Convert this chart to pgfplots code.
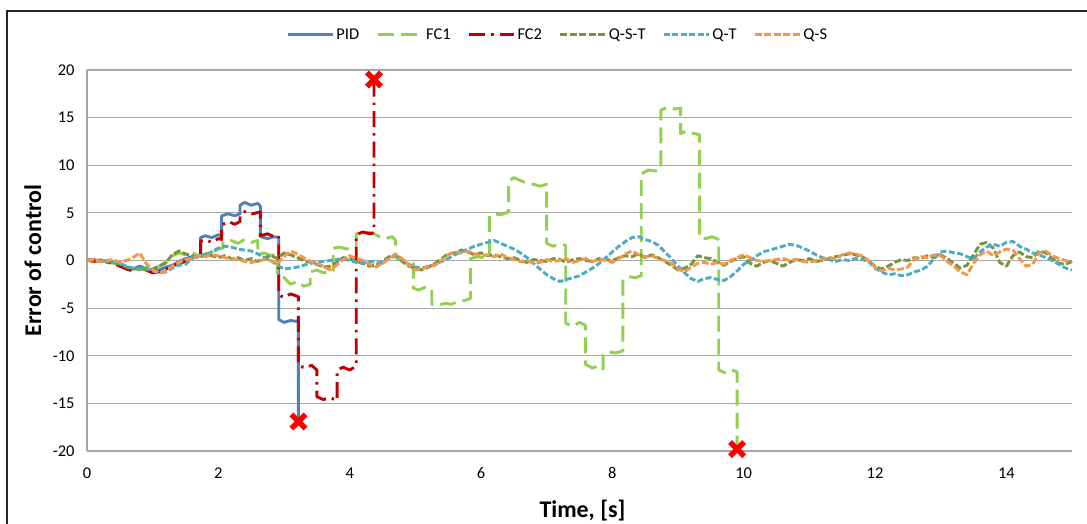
\documentclass[border=0pt]{standalone}
\usepackage{fontspec}
\setmainfont{Carlito}
\usepackage{pgfplots}
\pgfplotsset{compat=1.18}
\definecolor{cPID}{HTML}{4F81BD}
\definecolor{cFCa}{HTML}{92D050}
\definecolor{cFCb}{HTML}{C00000}
\definecolor{cQST}{HTML}{77933C}
\definecolor{cQT}{HTML}{4BACC6}
\definecolor{cQS}{HTML}{F79646}
\definecolor{gridgray}{HTML}{A6A6A6}
\begin{document}
\begin{tikzpicture}
\useasboundingbox (0bp,0bp) rectangle (1087bp,524bp);
\draw[black!85, line width=1.3bp] (7bp,-5bp) -- (7bp,513bp) -- (1095bp,513bp);
\begin{axis}[
  at={(87bp,73bp)}, anchor=south west,
  scale only axis, width=985bp, height=381bp,
  xmin=0, xmax=15, ymin=-20, ymax=20,
  xtick={0,2,...,14}, ytick={-20,-15,...,20},
  axis lines*=left, axis line style={gridgray, line width=1.2bp},
  ymajorgrids, grid style={gridgray, line width=1.2bp},
  major tick length=0pt,
  clip=false,
  /pgf/number format/assume math mode=true,
  ticklabel style={font=\fontsize{16.5}{18}\selectfont},
  yticklabel style={xshift=-9bp},
  xticklabel style={yshift=-13bp},
  xlabel={\textbf{Time, [s]}},
  ylabel={\textbf{Error of control}},
  label style={font=\fontsize{24}{26}\selectfont},
  x label style={at={(axis description cs:0.503,-0.157)}, anchor=center},
  y label style={at={(axis description cs:-0.055,0.5)}, anchor=center},
  legend columns=6,
  legend style={at={(axis description cs:0.478,1.092)}, anchor=center, draw=none, fill=none,
    font=\fontsize{16.5}{18}\selectfont,
    nodes={inner xsep=2bp, inner ysep=2bp},
    /tikz/every even column/.append style={column sep=15bp}},
  legend image code/.code={\draw[#1] (0bp,0bp) -- (45bp,0bp);},
  every axis plot/.append style={line width=2.9bp, line join=round},
]
% PID
\addplot[cPID, solid] coordinates {(0,0) (0.1,0.1) (0.2,-0.1) (0.3,0.0) (0.4,-0.2) (0.5,-0.4) (0.6,-0.7) (0.7,-0.9) (0.8,-0.6) (0.9,-0.8) (1.0,-1.1) (1.1,-1.0) (1.2,-0.7) (1.3,-0.5) (1.4,-0.1) (1.5,0.2) (1.6,0.4) (1.73,0.6) (1.73,2.4) (1.8,2.6) (1.9,2.4) (2.0,2.7) (2.05,2.6) (2.05,4.7) (2.15,4.9) (2.25,4.7) (2.33,4.9) (2.33,5.8) (2.4,6.1) (2.5,5.8) (2.6,6.0) (2.64,5.7) (2.64,2.5) (2.75,2.3) (2.85,2.5) (2.92,2.4) (2.92,-6.2) (3.0,-6.5) (3.1,-6.3) (3.2,-6.4) (3.22,-6.2) (3.22,-16.9)};
\addlegendentry{PID}
% FC1
\addplot[cFCa, dash pattern=on 16bp off 7bp] coordinates {(0,0.0) (0.1,-0.1) (0.2,0.1) (0.3,-0.1) (0.4,-0.3) (0.5,-0.5) (0.6,-0.7) (0.7,-0.8) (0.8,-1.0) (0.9,-0.7) (1.0,-0.9) (1.1,-0.6) (1.2,-0.3) (1.3,0.5) (1.4,0.8) (1.5,0.6) (1.6,0.9) (1.7,0.4) (1.8,0.7) (1.9,0.9) (2.0,1.2) (2.07,1.3) (2.07,1.9) (2.2,2.1) (2.3,1.8) (2.4,2.2) (2.5,1.9) (2.6,2.1) (2.6,0.6) (2.7,0.8) (2.8,0.5) (2.9,0.7) (2.9,-1.5) (3.0,-1.8) (3.1,-2.5) (3.2,-2.2) (3.3,-2.7) (3.4,-2.5) (3.4,-1.2) (3.5,-1.0) (3.6,-1.3) (3.75,-1.1) (3.75,1.3) (3.85,1.4) (3.95,1.2) (4.1,1.4) (4.1,2.8) (4.2,3.0) (4.35,2.9) (4.45,2.5) (4.55,2.3) (4.65,2.5) (4.7,2.1) (4.7,0.3) (4.8,0.0) (4.9,-0.2) (4.97,-0.3) (4.97,-2.9) (5.05,-3.1) (5.15,-2.8) (5.25,-3.0) (5.25,-4.6) (5.35,-4.7) (5.45,-4.5) (5.55,-4.6) (5.65,-4.3) (5.75,-4.2) (5.84,-4.0) (5.84,0.2) (5.95,0.4) (6.05,0.3) (6.13,0.5) (6.13,4.7) (6.2,4.9) (6.3,4.8) (6.42,5.1) (6.42,8.3) (6.5,8.7) (6.6,8.4) (6.7,8.1) (6.8,8.0) (6.9,7.8) (7.0,8.0) (7.0,1.8) (7.1,1.5) (7.2,1.7) (7.29,1.6) (7.29,-6.6) (7.4,-6.9) (7.5,-6.5) (7.59,-6.8) (7.59,-10.9) (7.7,-11.3) (7.8,-11.0) (7.86,-11.4) (7.86,-9.9) (7.95,-9.6) (8.05,-9.7) (8.16,-9.5) (8.16,-2.0) (8.25,-1.7) (8.35,-1.8) (8.44,-1.6) (8.44,9.1) (8.55,9.5) (8.65,9.4) (8.74,9.6) (8.74,15.8) (8.85,16.1) (8.95,15.9) (9.04,16.0) (9.04,13.3) (9.12,13.6) (9.2,13.4) (9.33,13.2) (9.33,2.4) (9.42,2.3) (9.52,2.5) (9.62,2.2) (9.62,-11.5) (9.72,-11.8) (9.82,-11.5) (9.9,-11.7) (9.9,-19.8)};
\addlegendentry{FC1}
% FC2
\addplot[cFCb, dash pattern=on 16bp off 6bp on 2.5bp off 6bp] coordinates {(0,0.1) (0.1,-0.1) (0.2,0.0) (0.3,-0.2) (0.4,-0.3) (0.5,-0.6) (0.6,-0.9) (0.7,-1.1) (0.8,-0.8) (0.9,-1.0) (1.0,-1.3) (1.1,-1.2) (1.2,-0.9) (1.3,-0.6) (1.4,-0.3) (1.5,-0.1) (1.6,0.3) (1.73,0.4) (1.73,2.0) (1.8,2.2) (1.9,1.9) (2.0,2.3) (2.05,2.2) (2.05,3.7) (2.15,4.1) (2.25,3.8) (2.33,4.1) (2.33,4.8) (2.42,5.2) (2.52,4.9) (2.64,5.1) (2.64,2.6) (2.75,2.8) (2.85,2.5) (2.92,2.6) (2.92,-3.6) (3.0,-3.9) (3.1,-3.5) (3.22,-3.8) (3.22,-11.0) (3.32,-11.3) (3.42,-11.0) (3.5,-11.5) (3.5,-14.3) (3.6,-14.6) (3.7,-14.4) (3.81,-14.7) (3.81,-11.5) (3.9,-11.2) (4.0,-11.5) (4.1,-11.1) (4.1,2.7) (4.2,3.0) (4.3,2.8) (4.37,2.9) (4.37,19.0)};
\addlegendentry{FC2}
% Q-S-T
\addplot[cQST, dash pattern=on 7bp off 2.5bp] coordinates {(0.0,0.1) (0.1,-0.1) (0.2,0.0) (0.3,-0.2) (0.4,-0.1) (0.5,-0.4) (0.6,-0.7) (0.7,-0.9) (0.8,-0.8) (0.9,-1.0) (1.0,-0.9) (1.1,-0.6) (1.2,-0.2) (1.3,0.6) (1.4,1.0) (1.5,0.7) (1.6,0.5) (1.7,0.3) (1.8,0.6) (1.9,0.5) (2.0,0.3) (2.1,0.5) (2.2,0.2) (2.3,0.3) (2.4,0.0) (2.5,0.2) (2.6,-0.1) (2.7,0.3) (2.8,0.5) (2.9,0.2) (3.0,0.8) (3.1,0.6) (3.2,0.3) (3.3,0.0) (3.4,-0.2) (3.5,-0.4) (3.6,-0.7) (3.7,-0.6) (3.8,-0.2) (3.9,0.3) (4.0,0.2) (4.1,-0.1) (4.2,-0.3) (4.3,-0.6) (4.4,-0.5) (4.5,-0.1) (4.6,0.4) (4.7,0.6) (4.8,-0.1) (4.9,-0.6) (5.0,-0.8) (5.1,-1.0) (5.2,-0.7) (5.3,-0.3) (5.4,0.2) (5.5,0.7) (5.6,0.8) (5.7,1.1) (5.8,0.9) (5.9,0.6) (6.0,0.8) (6.1,0.5) (6.2,0.6) (6.3,0.4) (6.4,0.2) (6.5,0.3) (6.6,0.0) (6.7,-0.2) (6.8,0.1) (6.9,0.0) (7.0,-0.1) (7.1,0.2) (7.2,0.1) (7.3,-0.2) (7.4,0.1) (7.5,0.2) (7.6,0.0) (7.7,-0.1) (7.8,0.2) (7.9,0.1) (8.0,0.0) (8.1,0.3) (8.2,0.5) (8.3,0.4) (8.4,0.7) (8.5,0.3) (8.6,0.6) (8.7,0.3) (8.8,-0.1) (8.9,-0.5) (9.0,-1.0) (9.1,-0.8) (9.2,-0.4) (9.3,0.5) (9.4,0.3) (9.5,0.2) (9.6,-0.2) (9.7,-0.5) (9.8,-0.1) (9.9,0.2) (10.0,0.4) (10.1,-0.3) (10.2,-0.6) (10.3,-0.2) (10.4,0.0) (10.5,-0.3) (10.6,-0.6) (10.7,-0.2) (10.8,0.1) (10.9,0.0) (11.0,0.2) (11.1,-0.1) (11.2,0.0) (11.3,0.2) (11.4,0.4) (11.5,0.5) (11.6,0.7) (11.7,0.6) (11.8,0.4) (11.9,0.0) (12.0,-0.6) (12.1,-0.9) (12.2,-0.6) (12.3,-0.2) (12.4,0.1) (12.5,0.0) (12.6,0.3) (12.7,0.2) (12.8,0.5) (12.9,0.3) (13.0,0.6) (13.1,0.2) (13.2,-0.3) (13.3,-0.8) (13.4,-0.5) (13.5,0.6) (13.6,1.7) (13.7,1.9) (13.8,1.3) (13.9,-0.2) (14.0,-0.6) (14.1,0.5) (14.2,0.9) (14.3,0.4) (14.4,0.3) (14.5,1.0) (14.6,0.8) (14.7,0.2) (14.8,-0.3) (14.9,-0.4) (15.0,-0.1)};
\addlegendentry{Q-S-T}
% Q-T
\addplot[cQT, dash pattern=on 6bp off 2.5bp] coordinates {(0.0,0.0) (0.1,0.1) (0.2,-0.1) (0.3,0.0) (0.4,-0.2) (0.5,-0.3) (0.6,-0.6) (0.7,-0.8) (0.8,-0.9) (0.9,-0.8) (1.0,-1.1) (1.1,-1.3) (1.2,-1.2) (1.3,-0.8) (1.4,-0.5) (1.5,-0.4) (1.6,0.2) (1.7,0.5) (1.8,0.6) (1.9,0.9) (2.0,1.3) (2.1,1.5) (2.2,1.4) (2.3,1.2) (2.4,1.1) (2.5,1.0) (2.6,0.7) (2.7,0.3) (2.8,0.0) (2.9,-0.5) (3.0,-0.9) (3.1,-0.8) (3.2,-0.7) (3.3,-0.5) (3.4,-0.3) (3.5,-0.2) (3.6,-0.1) (3.7,0.0) (3.8,0.1) (3.9,0.2) (4.0,0.0) (4.1,-0.2) (4.2,-0.3) (4.3,-0.1) (4.4,-0.2) (4.5,-0.3) (4.6,0.2) (4.7,0.5) (4.8,0.1) (4.9,-0.4) (5.0,-0.7) (5.1,-0.8) (5.2,-0.6) (5.3,-0.4) (5.4,-0.1) (5.5,0.2) (5.6,0.6) (5.7,0.9) (5.8,1.2) (5.9,1.5) (6.0,1.7) (6.1,1.9) (6.2,2.1) (6.3,1.8) (6.4,1.5) (6.5,1.2) (6.6,0.8) (6.7,0.3) (6.8,-0.3) (6.9,-0.9) (7.0,-1.5) (7.1,-1.9) (7.2,-2.2) (7.3,-2.0) (7.4,-1.8) (7.5,-1.6) (7.6,-1.2) (7.7,-0.8) (7.8,-0.3) (7.9,0.3) (8.0,0.9) (8.1,1.5) (8.2,2.0) (8.3,2.4) (8.4,2.5) (8.5,2.2) (8.6,2.0) (8.7,1.6) (8.8,0.9) (8.9,0.2) (9.0,-0.6) (9.1,-1.3) (9.2,-1.9) (9.3,-2.2) (9.4,-1.9) (9.5,-1.8) (9.6,-2.0) (9.7,-2.1) (9.8,-1.7) (9.9,-1.1) (10.0,-0.4) (10.1,0.0) (10.2,0.5) (10.3,0.9) (10.4,1.1) (10.5,1.3) (10.6,1.5) (10.7,1.7) (10.8,1.6) (10.9,1.3) (11.0,1.0) (11.1,0.6) (11.2,0.3) (11.3,0.1) (11.4,-0.1) (11.5,0.1) (11.6,0.0) (11.7,0.2) (11.8,0.1) (11.9,-0.1) (12.0,-0.8) (12.1,-1.2) (12.2,-1.5) (12.3,-1.4) (12.4,-1.6) (12.5,-1.5) (12.6,-1.2) (12.7,-1.0) (12.8,-0.6) (12.9,0.2) (13.0,0.9) (13.1,1.0) (13.2,0.8) (13.3,0.7) (13.4,0.4) (13.5,0.2) (13.6,0.9) (13.7,1.4) (13.8,1.7) (13.9,1.5) (14.0,1.9) (14.1,2.0) (14.2,1.5) (14.3,1.2) (14.4,0.8) (14.5,0.6) (14.6,0.3) (14.7,0.0) (14.8,-0.4) (14.9,-0.8) (15.0,-1.0)};
\addlegendentry{Q-T}
% Q-S
\addplot[cQS, dash pattern=on 7bp off 2.5bp] coordinates {(0.0,0.0) (0.1,0.1) (0.2,-0.1) (0.3,0.0) (0.4,0.1) (0.5,-0.2) (0.6,0.0) (0.7,0.3) (0.8,0.8) (0.9,-0.3) (1.0,-1.0) (1.1,-1.3) (1.2,-1.1) (1.3,-0.6) (1.4,-0.2) (1.5,0.1) (1.6,0.2) (1.7,0.5) (1.8,0.4) (1.9,0.6) (2.0,0.5) (2.1,0.3) (2.2,0.2) (2.3,0.1) (2.4,-0.1) (2.5,-0.2) (2.6,-0.1) (2.7,0.1) (2.8,0.0) (2.9,-0.3) (3.0,0.4) (3.1,1.0) (3.2,0.7) (3.3,0.3) (3.4,-0.1) (3.5,-0.3) (3.6,-0.6) (3.7,-1.0) (3.8,-0.5) (3.9,0.1) (4.0,0.5) (4.1,0.2) (4.2,0.0) (4.3,-0.4) (4.4,-0.7) (4.5,-0.3) (4.6,0.2) (4.7,0.6) (4.8,0.2) (4.9,-0.5) (5.0,-1.0) (5.1,-0.9) (5.2,-0.6) (5.3,-0.5) (5.4,0.0) (5.5,0.6) (5.6,0.9) (5.7,0.8) (5.8,1.0) (5.9,0.7) (6.0,0.5) (6.1,0.6) (6.2,0.4) (6.3,0.7) (6.4,0.3) (6.5,0.1) (6.6,-0.1) (6.7,0.0) (6.8,-0.3) (6.9,-0.2) (7.0,0.1) (7.1,-0.1) (7.2,0.0) (7.3,0.2) (7.4,-0.2) (7.5,0.0) (7.6,0.2) (7.7,-0.1) (7.8,0.1) (7.9,0.0) (8.0,-0.2) (8.1,0.2) (8.2,0.7) (8.3,1.0) (8.4,0.6) (8.5,0.4) (8.6,0.5) (8.7,0.2) (8.8,0.0) (8.9,-0.3) (9.0,-0.9) (9.1,-1.2) (9.2,-0.7) (9.3,-0.3) (9.4,-0.2) (9.5,-0.4) (9.6,-0.2) (9.7,-0.4) (9.8,0.0) (9.9,0.3) (10.0,0.6) (10.1,0.3) (10.2,0.0) (10.3,-0.1) (10.4,0.0) (10.5,0.1) (10.6,0.2) (10.7,0.0) (10.8,0.1) (10.9,-0.1) (11.0,-0.2) (11.1,0.0) (11.2,0.1) (11.3,0.3) (11.4,0.2) (11.5,0.6) (11.6,0.8) (11.7,0.7) (11.8,0.5) (11.9,0.0) (12.0,-0.7) (12.1,-1.1) (12.2,-0.8) (12.3,-1.0) (12.4,-0.9) (12.5,-0.7) (12.6,0.2) (12.7,0.4) (12.8,0.3) (12.9,0.6) (13.0,0.5) (13.1,-0.1) (13.2,-0.6) (13.3,-1.2) (13.4,-1.5) (13.5,-0.3) (13.6,0.6) (13.7,1.0) (13.8,0.5) (13.9,0.9) (14.0,1.2) (14.1,1.1) (14.2,0.2) (14.3,-0.6) (14.4,-0.4) (14.5,0.8) (14.6,1.0) (14.7,0.5) (14.8,0.2) (14.9,0.0) (15.0,-0.2)};
\addlegendentry{Q-S}
% failure markers
\addplot[only marks, red, mark=x, mark size=10bp, line width=5.5bp, forget plot] coordinates {(3.22,-16.9) (4.37,19.0) (9.9,-19.8)};
\end{axis}
\end{tikzpicture}
\end{document}
